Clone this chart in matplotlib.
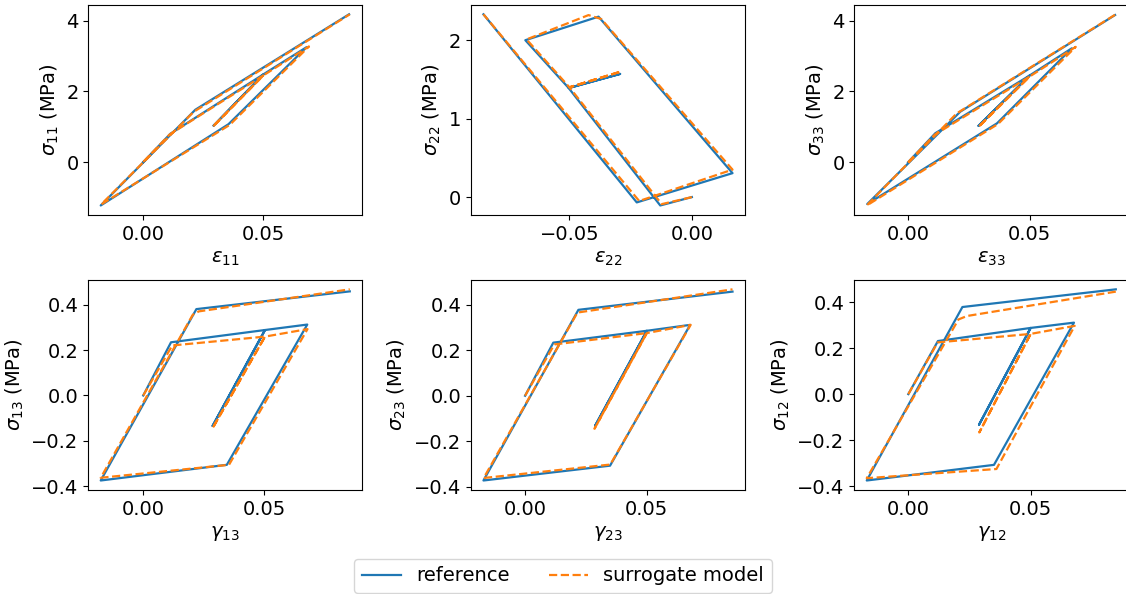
import numpy as np
import matplotlib
matplotlib.use("Agg")
import matplotlib.pyplot as plt

# ---------------
# DATA
# ---------------
# normal components : strain / stress (MPa)
eps11_ref = [0, 0.0113, 0.050, 0.0293, 0.050, 0.068, 0.0355, -0.0177, 0.0217, 0.0857]
sig11_ref = [0, 0.80, 2.48, 1.03, 2.48, 3.25, 1.07, -1.23, 1.48, 4.18]
eps11_sur = [0, 0.011, 0.050, 0.029, 0.050, 0.069, 0.036, -0.0175, 0.021, 0.086]
sig11_sur = [0, 0.78, 2.45, 1.00, 2.45, 3.27, 1.05, -1.20, 1.42, 4.18]

eps22_ref = [0, -0.0129, -0.0503, -0.0293, -0.0503, -0.068, -0.0381, 0.0166, -0.0225, -0.0851]
sig22_ref = [0, -0.107, 1.39, 1.57, 1.39, 2.00, 2.30, 0.305, -0.068, 2.33]
eps22_sur = [0, -0.0123, -0.050, -0.029, -0.050, -0.0675, -0.0422, -0.037, 0.0166, -0.0215, -0.0851]
sig22_sur = [0, -0.09, 1.40, 1.60, 1.40, 2.01, 2.32, 2.27, 0.35, -0.05, 2.33]

eps33_ref = [0, 0.0112, 0.050, 0.029, 0.050, 0.0674, 0.0366, -0.0168, 0.0215, 0.0852]
sig33_ref = [0, 0.82, 2.45, 1.03, 2.45, 3.22, 1.10, -1.18, 1.43, 4.16]
eps33_sur = [0, 0.011, 0.050, 0.029, 0.050, 0.069, 0.037, -0.017, 0.020, 0.0855]
sig33_sur = [0, 0.78, 2.42, 1.00, 2.42, 3.26, 1.08, -1.22, 1.38, 4.18]

# shear components
gam13_ref = [0, 0.0115, 0.0504, 0.0287, 0.0504, 0.0679, 0.0346, -0.0176, 0.022, 0.0855]
tau13_ref = [0, 0.234, 0.288, -0.134, 0.288, 0.312, -0.305, -0.374, 0.380, 0.458]
gam13_sur = [0, 0.012, 0.0504, 0.0287, 0.0504, 0.068, 0.0355, -0.0176, 0.0205, 0.023, 0.0855]
tau13_sur = [0, 0.22, 0.259, -0.144, 0.259, 0.292, -0.305, -0.362, 0.355, 0.37, 0.467]

gam23_ref = [0, 0.0116, 0.050, 0.0288, 0.050, 0.0678, 0.0349, -0.0171, 0.0219, 0.0852]
tau23_ref = [0, 0.233, 0.285, -0.131, 0.285, 0.311, -0.307, -0.372, 0.377, 0.457]
gam23_sur = [0, 0.012, 0.050, 0.0285, 0.050, 0.068, 0.035, -0.017, 0.0215, 0.0852]
tau23_sur = [0, 0.225, 0.275, -0.145, 0.275, 0.311, -0.302, -0.361, 0.365, 0.467]

gam12_ref = [0, 0.0121, 0.050, 0.0289, 0.050, 0.0677, 0.035, -0.017, 0.0221, 0.0848]
tau12_ref = [0, 0.231, 0.288, -0.133, 0.288, 0.311, -0.308, -0.376, 0.379, 0.456]
gam12_sur = [0, 0.012, 0.050, 0.029, 0.050, 0.068, 0.036, -0.017, 0.0205, 0.024, 0.0848]
tau12_sur = [0, 0.225, 0.262, -0.167, 0.262, 0.297, -0.326, -0.366, 0.325, 0.34, 0.446]

panels = [
    (eps11_ref, sig11_ref, eps11_sur, sig11_sur, r"$\varepsilon_{11}$", r"$\sigma_{11}$ (MPa)", [0, 0.05], [0, 2, 4]),
    (eps22_ref, sig22_ref, eps22_sur, sig22_sur, r"$\varepsilon_{22}$", r"$\sigma_{22}$ (MPa)", [-0.05, 0.0], [0, 1, 2]),
    (eps33_ref, sig33_ref, eps33_sur, sig33_sur, r"$\varepsilon_{33}$", r"$\sigma_{33}$ (MPa)", [0, 0.05], [0, 2, 4]),
    (gam13_ref, tau13_ref, gam13_sur, tau13_sur, r"$\gamma_{13}$", r"$\sigma_{13}$ (MPa)", [0, 0.05], [-0.4, -0.2, 0, 0.2, 0.4]),
    (gam23_ref, tau23_ref, gam23_sur, tau23_sur, r"$\gamma_{23}$", r"$\sigma_{23}$ (MPa)", [0, 0.05], [-0.4, -0.2, 0, 0.2, 0.4]),
    (gam12_ref, tau12_ref, gam12_sur, tau12_sur, r"$\gamma_{12}$", r"$\sigma_{12}$ (MPa)", [0, 0.05], [-0.4, -0.2, 0, 0.2, 0.4]),
]

def fmt(v, nd):
    s = ("%." + str(nd) + "f") % v
    return s.replace("-", "\u2212")

#----------------
# FIGURE
#----------------
fig = plt.figure(figsize=(11.26, 5.94), dpi=100)
lefts = [0.0784, 0.4183, 0.7587]
bottoms = [0.638, 0.175]
W, H = 0.2433, 0.354

for i, (x1, y1, x2, y2, xl, yl, xt, yt) in enumerate(panels):
    ax = fig.add_axes([lefts[i % 3], bottoms[i // 3], W, H])
    l1, = ax.plot(x1, y1, color="tab:blue", lw=1.6, label="reference")
    l2, = ax.plot(x2, y2, color="tab:orange", lw=1.6, ls="--", label="surrogate model")
    ax.set_xticks(xt)
    ax.set_xticklabels([fmt(v, 2) for v in xt])
    ax.set_yticks(yt)
    if i >= 3:
        ax.set_yticklabels([fmt(v, 1) for v in yt])
    ax.tick_params(labelsize=14)
    ax.set_xlabel(xl, fontsize=14)
    ax.set_ylabel(yl, fontsize=14)

fig.legend([l1, l2], ["reference", "surrogate model"], loc="lower center",
           bbox_to_anchor=(0.5, -0.015), ncol=2, fontsize=14)

fig.savefig("out.png", dpi=100)
